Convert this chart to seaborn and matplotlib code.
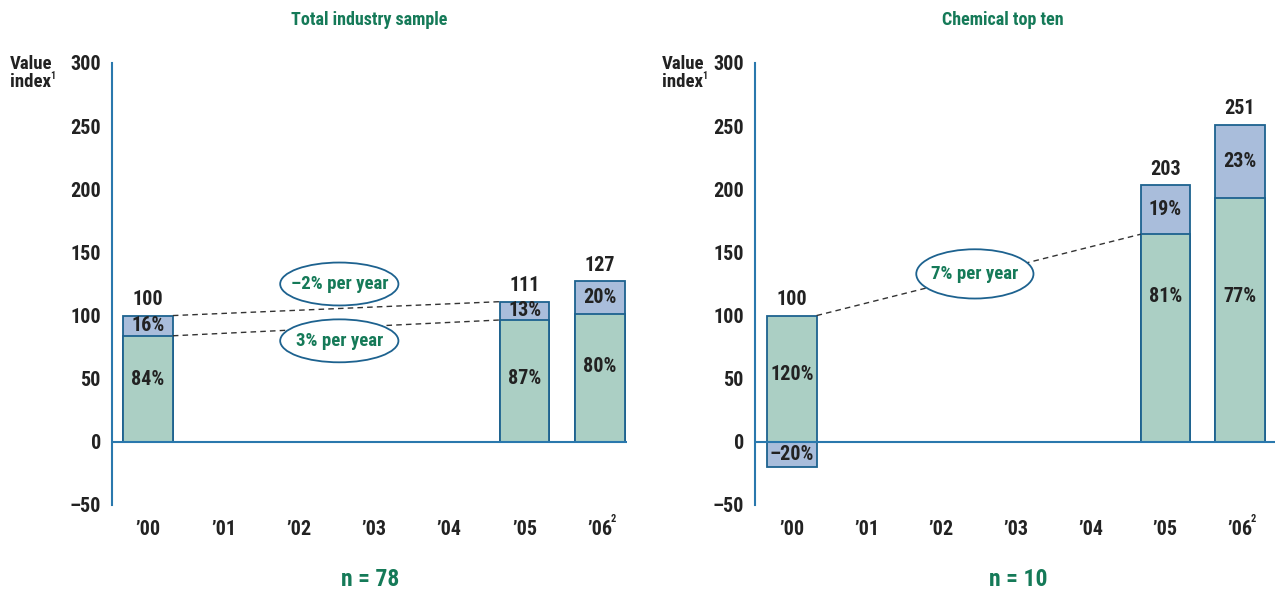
import numpy as np
import matplotlib
matplotlib.use('Agg')
import matplotlib.pyplot as plt
from matplotlib.patches import Ellipse
import seaborn as sns

sns.set_style('white')
plt.rcParams['font.family'] = ['Roboto Condensed', 'Liberation Sans Narrow', 'Roboto', 'DejaVu Sans']
plt.rcParams['font.weight'] = 'bold'

# Data
year_labels = ['’00', '’01', '’02', '’03', '’04', '’05', '’06']
bar_years = ['’00', '’05', '’06']

sample_green = [84, 96.5, 101.6]
sample_outer = [100, 111, 127]
sample_totals = ['100', '111', '127']
sample_green_pct = ['84%', '87%', '80%']
sample_blue_pct = ['16%', '13%', '20%']

chem_green = [100, 164.4, 193.3]
chem_outer = [-20, 203, 251]
chem_totals = ['100', '203', '251']
chem_green_pct = ['120%', '81%', '77%']
chem_blue_pct = ['–20%', '19%', '23%']

sample_trends = [('–2% per year', 100, 111), ('3% per year', 84, 96.5)]
chem_trends = [('7% per year', 100, 164.4)]

# layout
GREEN_FILL = '#abcfc4'
BLUE_FILL = '#a9bddb'
EDGE = '#1d628f'
AXIS = '#2a78ad'
TITLE_GREEN = '#157a58'
TEXT = '#222222'
BAR_W = 0.66
FS = 14.5

fig = plt.figure(figsize=(12.75, 5.93), dpi=100)
ax1 = fig.add_axes([112 / 1275, 88 / 593, 515 / 1275, 442 / 593])
ax2 = fig.add_axes([755 / 1275, 88 / 593, 520 / 1275, 442 / 593])


def draw_panel(ax, green, outer, totals, gpct, bpct, green_label_y, trends, ellipses, xlim):
    sns.barplot(x=bar_years, y=outer, order=year_labels, color=BLUE_FILL, saturation=1,
                width=BAR_W, edgecolor=EDGE, linewidth=1.3, ax=ax, zorder=2)
    sns.barplot(x=bar_years, y=green, order=year_labels, color=GREEN_FILL, saturation=1,
                width=BAR_W, edgecolor=EDGE, linewidth=1.3, ax=ax, zorder=3)
    ax.set_xlim(*xlim)
    ax.set_ylim(-50, 300)
    ax.set_xlabel('')
    ax.set_ylabel('')
    ax.set_yticks(range(-50, 301, 50))
    ax.set_yticklabels(['–50', '0', '50', '100', '150', '200', '250', '300'])
    ax.set_xticks(range(len(year_labels)))
    ax.set_xticklabels(year_labels)
    ax.tick_params(axis='both', length=0, labelsize=FS, labelcolor=TEXT)
    ax.tick_params(axis='y', pad=8)
    ax.tick_params(axis='x', pad=11)
    for s in ['top', 'right', 'bottom']:
        ax.spines[s].set_visible(False)
    ax.spines['left'].set_color(AXIS)
    ax.spines['left'].set_linewidth(1.5)
    ax.axhline(0, color=AXIS, lw=1.5, zorder=4)

    pos = [year_labels.index(y) for y in bar_years]
    for i, x in enumerate(pos):
        g, o = green[i], outer[i]
        top = max(g, o)
        ax.annotate(totals[i], (x, top), xytext=(0, 5), textcoords='offset points',
                    ha='center', va='bottom', fontsize=FS, color=TEXT)
        ax.text(x, green_label_y[i], gpct[i], ha='center', va='center', fontsize=FS,
                color=TEXT, zorder=5)
        if o < 0:
            by = o / 2
        else:
            by = (g + o) / 2
        ax.text(x, by, bpct[i], ha='center', va='center', fontsize=FS, color=TEXT, zorder=5)

    x0 = pos[0] + BAR_W / 2
    x1 = pos[1] - BAR_W / 2
    for (label, ya, yb), (ex, ey, ew, eh) in zip(trends, ellipses):
        ax.plot([x0, x1], [ya, yb], color='#333333', lw=1, ls=(0, (4, 3)), zorder=4)
        ax.add_patch(Ellipse((ex, ey), ew, eh, facecolor='white', edgecolor=EDGE,
                             lw=1.3, zorder=6))
        ax.text(ex, ey, label, ha='center', va='center', fontsize=13.5,
                color=TITLE_GREEN, zorder=7)

    # superscript on the last year label
    ax.annotate('2', (6, 0), xycoords=('data', 'axes fraction'), xytext=(8, -10),
                textcoords='offset points', fontsize=7.5, color=TEXT, ha='left', va='center')


draw_panel(ax1, sample_green, sample_outer, sample_totals, sample_green_pct, sample_blue_pct,
           [49, 50, 60], sample_trends,
           [(2.54, 125, 1.57, 34), (2.54, 80, 1.57, 34)], (-0.478, 6.36))
draw_panel(ax2, chem_green, chem_outer, chem_totals, chem_green_pct, chem_blue_pct,
           [53, 115, 115], chem_trends,
           [(2.45, 133, 1.57, 39)], (-0.495, 6.47))

for xf in (10 / 1275, 662 / 1275):
    fig.text(xf, 1 - 55 / 593, 'Value\nindex', fontsize=13.5, color=TEXT, ha='left',
             va='top', linespacing=1.0)
    fig.text(xf + 40 / 1275, 1 - 76 / 593, '1', fontsize=7, color=TEXT, ha='left', va='center')

fig.text(369 / 1275, 1 - 20 / 593, 'Total industry sample', fontsize=13, color=TITLE_GREEN,
         ha='center', va='center')
fig.text(1003 / 1275, 1 - 20 / 593, 'Chemical top ten', fontsize=13, color=TITLE_GREEN,
         ha='center', va='center')
fig.text(370 / 1275, 1 - 579 / 593, 'n = 78', fontsize=17, color=TITLE_GREEN,
         ha='center', va='center')
fig.text(1018 / 1275, 1 - 579 / 593, 'n = 10', fontsize=17, color=TITLE_GREEN,
         ha='center', va='center')

fig.savefig('out.png', dpi=100)
